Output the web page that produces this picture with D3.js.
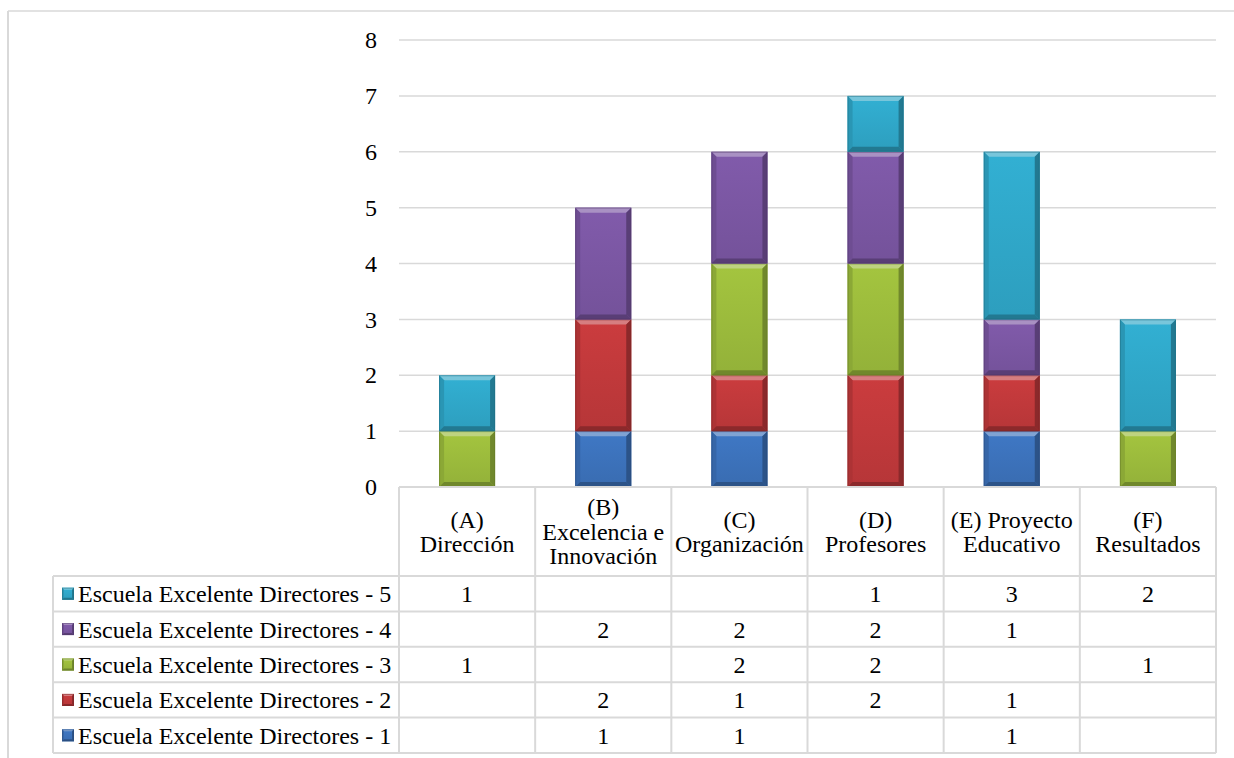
<!DOCTYPE html>
<html>
<head>
<meta charset="utf-8">
<script src="https://cdn.jsdelivr.net/npm/d3@7"></script>
</head>
<body style="margin:0;background:#fff">
<svg id="chart" width="1234" height="758" style="display:block;font-family:'Liberation Serif','Times New Roman',serif"></svg>
<script>
// Categories (header lines of the data table)
const categories = ["(A) Dirección", "(B) Excelencia e Innovación", "(C) Organización",
                    "(D) Profesores", "(E) Proyecto Educativo", "(F) Resultados"];
const categoryLines = [["(A)", "Dirección"], ["(B)", "Excelencia e", "Innovación"],
                       ["(C)", "Organización"], ["(D)", "Profesores"],
                       ["(E) Proyecto", "Educativo"], ["(F)", "Resultados"]];

// Series, bottom of the stack first
const seriesNames = ["Escuela Excelente Directores - 1", "Escuela Excelente Directores - 2",
                     "Escuela Excelente Directores - 3", "Escuela Excelente Directores - 4",
                     "Escuela Excelente Directores - 5"];
const directores1 = [null, 1, 1, null, 1, null];
const directores2 = [null, 2, 1, 2, 1, null];
const directores3 = [1, null, 2, 2, null, 1];
const directores4 = [null, 2, 2, 2, 1, null];
const directores5 = [1, null, null, 1, 3, 2];
const seriesValues = [directores1, directores2, directores3, directores4, directores5];
const seriesColors = ["#3c72bb", "#c0393b", "#9bbb3c", "#7a56a2", "#2fa7c8"];

const yTicks = [0, 1, 2, 3, 4, 5, 6, 7, 8];

const svg = d3.select("#chart");
const gridColor = "#d9d9d9";
const fontSize = 24;
const serif = "'Liberation Serif', 'Times New Roman', serif";

// apply the serif face as an inline style so it takes precedence everywhere
const styleText = sel => sel.style("font-family", serif).style("font-size", fontSize + "px").attr("fill", "#000");

// Layout
const plotLeft = 399, plotRight = 1216, plotTop = 40, plotBottom = 487;
const headerBottom = 576, rowH = 35.4, legendLeft = 53;

// Outer frame (top and left edges)
svg.append("line").attr("x1", 8).attr("x2", 1234).attr("y1", 11).attr("y2", 11)
  .attr("stroke", gridColor).attr("stroke-width", 1.5);
svg.append("line").attr("x1", 8).attr("x2", 8).attr("y1", 11).attr("y2", 758)
  .attr("stroke", gridColor).attr("stroke-width", 2);

const x = d3.scaleBand().domain(categories).range([plotLeft, plotRight]).paddingInner(0).paddingOuter(0);
const y = d3.scaleLinear().domain([0, 8]).range([plotBottom, plotTop]);

// Gridlines
svg.append("g").selectAll("line").data(yTicks.filter(d => d > 0)).join("line")
  .attr("x1", plotLeft).attr("x2", plotRight)
  .attr("y1", d => y(d)).attr("y2", d => y(d))
  .attr("stroke", gridColor).attr("stroke-width", 1.5);

// Y axis labels
const yAxis = d3.axisLeft(y).tickValues(yTicks).tickSize(0).tickPadding(0);
const yg = svg.append("g").attr("transform", `translate(${plotLeft - 22},0)`).call(yAxis);
yg.select(".domain").remove();
yg.attr("font-family", null).attr("font-size", null);
yg.selectAll("text").call(styleText).attr("dy", "0.32em");

// Bevelled block
const defs = svg.append("defs");
let gradCount = 0;
function bevelBlock(g, bx, by, bw, bh, color, b) {
  const c = d3.color(color);
  const light = d3.interpolateRgb(color, "#ffffff")(0.35);
  const dark = c.darker(0.9).formatHex();
  const side = c.darker(0.3).formatHex();
  const id = "grad" + (gradCount++);
  const grad = defs.append("linearGradient").attr("id", id)
    .attr("x1", 0).attr("x2", 0).attr("y1", 0).attr("y2", 1);
  grad.append("stop").attr("offset", 0).attr("stop-color", c.brighter(0.15).formatHex());
  grad.append("stop").attr("offset", 1).attr("stop-color", c.darker(0.15).formatHex());
  g.append("rect").attr("x", bx).attr("y", by).attr("width", bw).attr("height", bh)
    .attr("fill", `url(#${id})`);
  const p = pts => g.append("polygon").attr("points", pts.map(q => q.join(",")).join(" "));
  p([[bx, by], [bx + bw, by], [bx + bw - b, by + b], [bx + b, by + b]]).attr("fill", light);
  p([[bx, by], [bx + b, by + b], [bx + b, by + bh - b], [bx, by + bh]]).attr("fill", side);
  p([[bx + bw, by], [bx + bw - b, by + b], [bx + bw - b, by + bh - b], [bx + bw, by + bh]]).attr("fill", dark);
  p([[bx, by + bh], [bx + b, by + bh - b], [bx + bw - b, by + bh - b], [bx + bw, by + bh]]).attr("fill", dark);
  g.append("rect").attr("x", bx + 0.5).attr("y", by + 0.5).attr("width", bw - 1).attr("height", bh - 1)
    .attr("fill", "none").attr("stroke", c.darker(1.2).formatHex()).attr("stroke-opacity", 0.5);
}

// Stacked bars
const barW = 56;
const barsG = svg.append("g");
categories.forEach((cat, i) => {
  let base = 0;
  seriesValues.forEach((vals, s) => {
    const v = vals[i];
    if (!v) return;
    const top = base + v;
    const bx = x(cat) + (x.bandwidth() - barW) / 2;
    bevelBlock(barsG, bx, y(top), barW, y(base) - y(top), seriesColors[s], 5);
    base = top;
  });
});

// Data table
const tableG = svg.append("g");
const rowsTop = headerBottom;
const nRows = seriesNames.length;
const tableBottom = rowsTop + nRows * rowH;
const stroke = (sel) => sel.attr("stroke", gridColor).attr("stroke-width", 2);

// horizontal lines
tableG.append("line").attr("x1", plotLeft).attr("x2", plotRight).attr("y1", plotBottom).attr("y2", plotBottom).call(stroke);
for (let r = 0; r <= nRows; r++) {
  const yy = rowsTop + r * rowH;
  tableG.append("line").attr("x1", legendLeft).attr("x2", plotRight).attr("y1", yy).attr("y2", yy).call(stroke);
}
// vertical lines
tableG.append("line").attr("x1", legendLeft).attr("x2", legendLeft).attr("y1", rowsTop).attr("y2", tableBottom).call(stroke);
categories.forEach(cat => {
  tableG.append("line").attr("x1", x(cat)).attr("x2", x(cat)).attr("y1", plotBottom).attr("y2", tableBottom).call(stroke);
});
tableG.append("line").attr("x1", plotRight).attr("x2", plotRight).attr("y1", plotBottom).attr("y2", tableBottom).call(stroke);

// header texts
const lineH = 24.5;
categories.forEach((cat, i) => {
  const lines = categoryLines[i];
  const cy = (plotBottom + headerBottom) / 2;
  const startY = cy - (lines.length - 1) * lineH / 2;
  const t = tableG.append("text").attr("text-anchor", "middle").call(styleText);
  lines.forEach((ln, k) => {
    t.append("tspan").attr("x", x(cat) + x.bandwidth() / 2).attr("y", startY + k * lineH)
      .attr("dy", "0.35em").text(ln);
  });
});

// rows: top row is series 5
const displayOrder = d3.range(nRows).reverse();
displayOrder.forEach((s, r) => {
  const cy = rowsTop + r * rowH + rowH / 2;
  // legend key
  bevelBlock(tableG, 62, cy - 6, 12, 12, seriesColors[s], 2);
  tableG.append("text").attr("x", 78).attr("y", cy).attr("dy", "0.35em")
    .call(styleText).text(seriesNames[s]);
  categories.forEach((cat, i) => {
    const v = seriesValues[s][i];
    if (v == null) return;
    tableG.append("text").attr("x", x(cat) + x.bandwidth() / 2).attr("y", cy).attr("dy", "0.35em")
      .attr("text-anchor", "middle").call(styleText).text(v);
  });
});
</script>
</body>
</html>
